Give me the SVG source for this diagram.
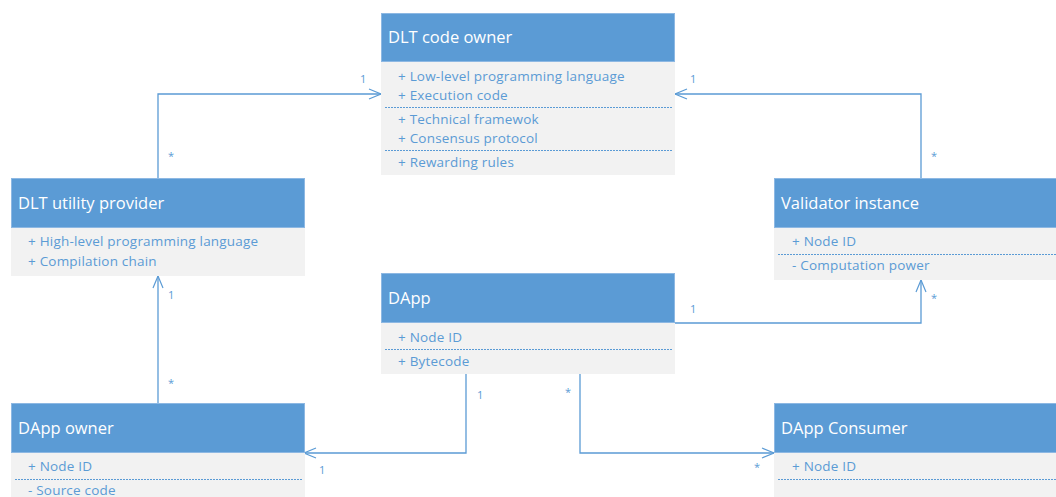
<svg xmlns="http://www.w3.org/2000/svg" width="1056" height="497" viewBox="0 0 1056 497">
<style>
.hd{fill:#5B9BD5;stroke:#8DB8E3;stroke-width:1}
.bd{fill:#F2F2F2}
.tt{font-family:"Open Sans","Noto Sans",sans-serif;font-size:16.5px;fill:#FFFFFF}
.it{font-family:"Open Sans","Noto Sans",sans-serif;font-size:13.5px;letter-spacing:0.2px;fill:#5B9BD5}
.sep{stroke:#5B9BD5;stroke-width:1;stroke-dasharray:2 1}
.cn{fill:none;stroke:#5B9BD5;stroke-width:1.3}
.lb{font-family:"Open Sans","Noto Sans",sans-serif;font-size:11px;fill:#5B9BD5}
</style>
<defs>
<marker id="arr" viewBox="0 0 14 12" refX="13" refY="6" markerWidth="14" markerHeight="12" markerUnits="userSpaceOnUse" orient="auto">
<path d="M1,1 L13,6 L1,11" fill="none" stroke="#5B9BD5" stroke-width="1.2"/>
</marker>
</defs>
<rect width="1056" height="497" fill="#FFFFFF"/>
<g id="connectors">
<polyline class="cn" points="158,178 158,94 381,94" marker-end="url(#arr)"/>
<polyline class="cn" points="921,178 921,94 675,94" marker-end="url(#arr)"/>
<polyline class="cn" points="158,403 158,276" marker-end="url(#arr)"/>
<polyline class="cn" points="675,323 921,323 921,280" marker-end="url(#arr)"/>
<polyline class="cn" points="466,374 466,453 304,453" marker-end="url(#arr)"/>
<polyline class="cn" points="580,374 580,453 774,453" marker-end="url(#arr)"/>
<text class="lb" x="360" y="83">1</text>
<text class="lb" x="168" y="160">*</text>
<text class="lb" x="690" y="83">1</text>
<text class="lb" x="931" y="160">*</text>
<text class="lb" x="168" y="299">1</text>
<text class="lb" x="168" y="387">*</text>
<text class="lb" x="690" y="313">1</text>
<text class="lb" x="931" y="302">*</text>
<text class="lb" x="477" y="399">1</text>
<text class="lb" x="319" y="474">1</text>
<text class="lb" x="565" y="396">*</text>
<text class="lb" x="754" y="471">*</text>
</g>
<g id="dlt-code-owner">
<rect class="bd" x="381" y="62" width="294" height="113"/>
<rect class="hd" x="381.5" y="13.5" width="293" height="48"/>
<text class="tt" x="388" y="43">DLT code owner</text>
<text class="it" x="398" y="81">+ Low-level programming language</text>
<text class="it" x="398" y="100">+ Execution code</text>
<line class="sep" x1="385" y1="107.5" x2="672" y2="107.5"/>
<text class="it" x="398" y="124">+ Technical framewok</text>
<text class="it" x="398" y="143">+ Consensus protocol</text>
<line class="sep" x1="385" y1="150.5" x2="672" y2="150.5"/>
<text class="it" x="398" y="167">+ Rewarding rules</text>
</g>
<g id="dlt-utility-provider">
<rect class="bd" x="11" y="228" width="294" height="48"/>
<rect class="hd" x="11.5" y="178.5" width="293" height="49"/>
<text class="tt" x="18" y="209">DLT utility provider</text>
<text class="it" x="28" y="246">+ High-level programming language</text>
<text class="it" x="28" y="266">+ Compilation chain</text>
</g>
<g id="validator-instance">
<rect class="bd" x="774" y="228" width="282" height="52"/>
<rect class="hd" x="774.5" y="178.5" width="282" height="49"/>
<text class="tt" x="781" y="209">Validator instance</text>
<text class="it" x="792" y="246">+ Node ID</text>
<line class="sep" x1="778" y1="254.5" x2="1056" y2="254.5"/>
<text class="it" x="792" y="270">- Computation power</text>
</g>
<g id="dapp">
<rect class="bd" x="381" y="323" width="294" height="51"/>
<rect class="hd" x="381.5" y="273.5" width="293" height="49"/>
<text class="tt" x="388" y="304">DApp</text>
<text class="it" x="398" y="342">+ Node ID</text>
<line class="sep" x1="385" y1="349.5" x2="672" y2="349.5"/>
<text class="it" x="398" y="366">+ Bytecode</text>
</g>
<g id="dapp-owner">
<rect class="bd" x="11" y="453" width="294" height="44"/>
<rect class="hd" x="11.5" y="403.5" width="293" height="49"/>
<text class="tt" x="18" y="434">DApp owner</text>
<text class="it" x="28" y="471">+ Node ID</text>
<line class="sep" x1="15" y1="479.5" x2="302" y2="479.5"/>
<text class="it" x="28" y="495">- Source code</text>
</g>
<g id="dapp-consumer">
<rect class="bd" x="774" y="453" width="282" height="44"/>
<rect class="hd" x="774.5" y="403.5" width="282" height="49"/>
<text class="tt" x="781" y="434">DApp Consumer</text>
<text class="it" x="792" y="471">+ Node ID</text>
<line class="sep" x1="778" y1="479.5" x2="1056" y2="479.5"/>
</g>
</svg>
